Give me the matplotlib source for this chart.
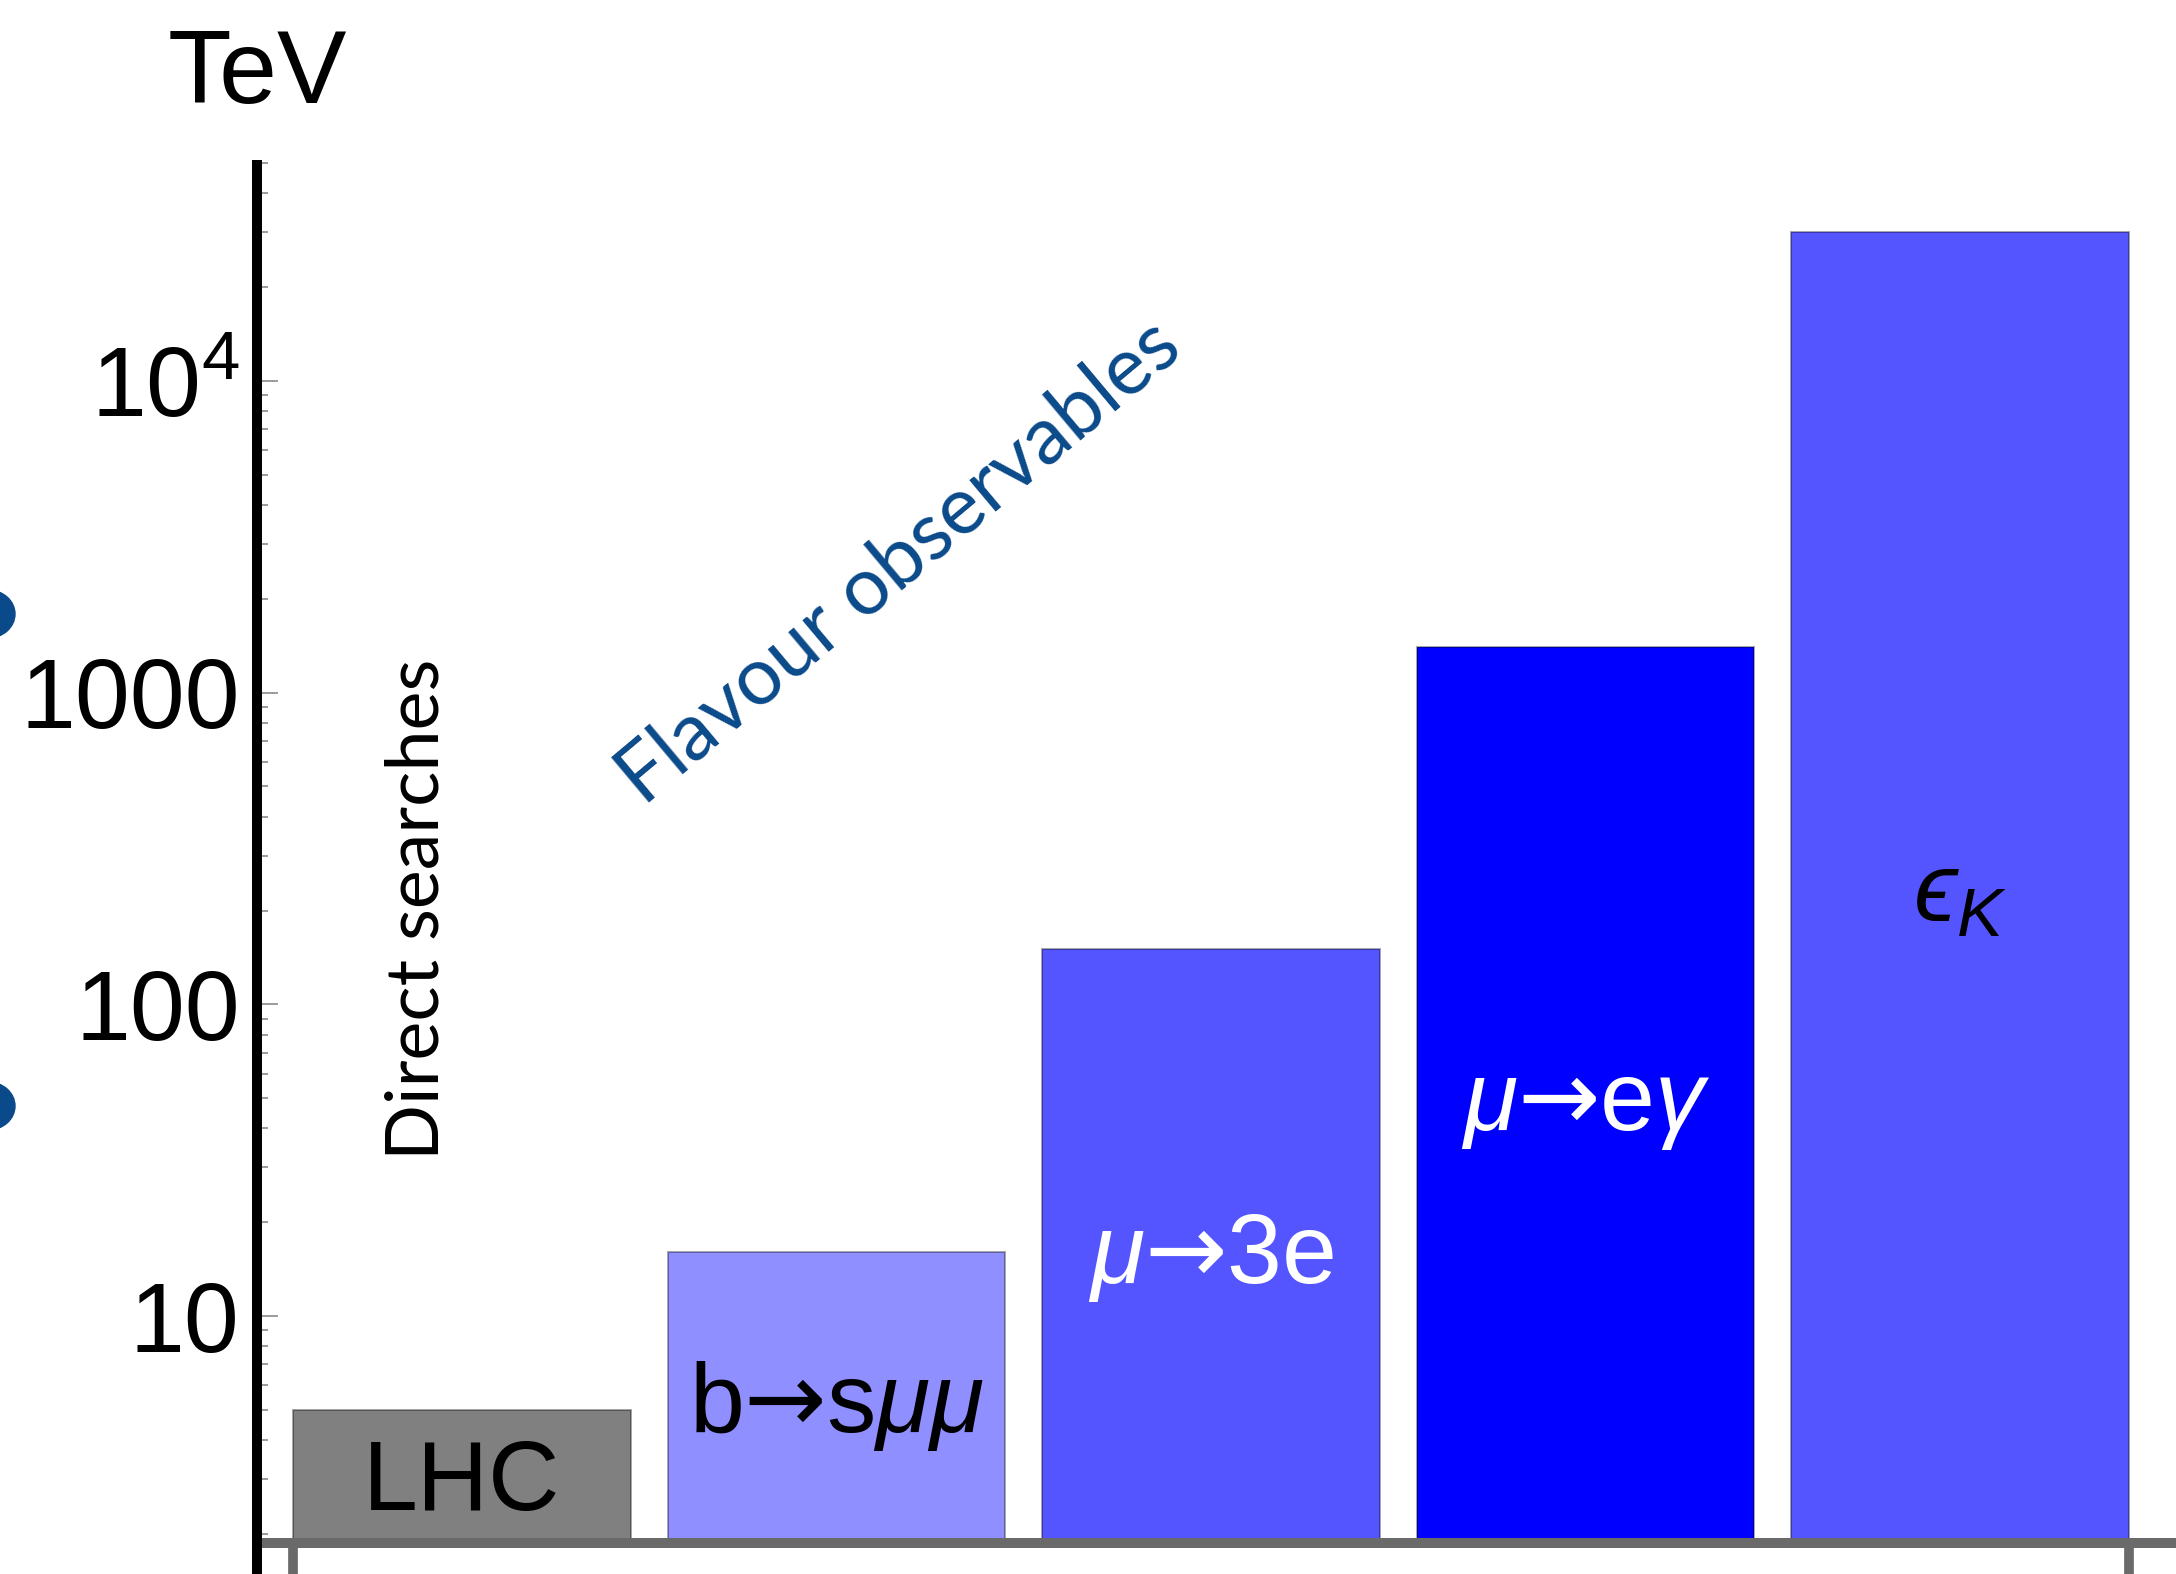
import numpy as np
import matplotlib
matplotlib.use("Agg")
import matplotlib.pyplot as plt
from matplotlib import font_manager
from matplotlib.patches import Ellipse
from matplotlib.ticker import FixedLocator, FixedFormatter, LogLocator, NullFormatter

# New-physics scale probed by each measurement, in TeV
labels = ["LHC", "b$\\mathsf{→}$s$\\mu\\mu$", "$\\mu\\mathsf{→}$3e",
          "$\\mu\\mathsf{→}$e$\\gamma$", "$\u03f5_K$"]
scales = [5, 16, 150, 1400, 30000]

yticks = [10, 100, 1000, 1e4]
ytick_labels = ["10", "100", "1000", "$10^4$"]

# styling
bar_colors = ["#808080", "#8f8fff", "#5555ff", "#0000ff", "#5555ff"]
text_colors = ["black", "black", "white", "white", "black"]
label_base = [2.39, 4.25, 12.8, 39.5, 184]   # text baselines inside the bars
axis_grey = "#6a6a6a"
note_blue = "#0b4a8a"

names = {f.name for f in font_manager.fontManager.ttflist}
sans = "Liberation Sans Narrow" if "Liberation Sans Narrow" in names else "Liberation Sans"
fs = 80 if sans.endswith("Narrow") else 71

plt.rcParams["font.family"] = [sans, "DejaVu Sans"]
plt.rcParams["mathtext.fontset"] = "custom"
plt.rcParams["mathtext.rm"] = sans
plt.rcParams["mathtext.it"] = sans + ":italic"
plt.rcParams["mathtext.bf"] = sans + ":bold"
plt.rcParams["mathtext.sf"] = "DejaVu Sans"   # heavier arrow glyph
plt.rcParams["mathtext.fallback"] = "stixsans"

W, H = 2176, 1574
fig = plt.figure(figsize=(W / 100, H / 100), dpi=100)
ax = fig.add_axes([257 / W, 0, (2171 - 257) / W, 1 - 160 / H])

base = 1.873
x = np.arange(1, len(scales) + 1)
width = 0.9

ax.set_yscale("log")
ax.set_ylim(1.489, 51090)
ax.set_xlim(0.4526, 5.5634)

ax.bar(x, np.array(scales) - base, bottom=base, width=width, color=bar_colors,
       edgecolor=(0, 0, 0, 0.35), linewidth=1.4, zorder=2)

for xi, lab, yb, tc in zip(x, labels, label_base, text_colors):
    ax.text(xi, yb, lab, ha="center", va="baseline", fontsize=fs, color=tc, zorder=3)

# axes lines
for s in ("top", "right"):
    ax.spines[s].set_visible(False)
ax.spines["left"].set_color("black")
ax.spines["left"].set_linewidth(7.2)
ax.spines["left"].set_capstyle("butt")
ax.spines["left"].set_zorder(4)
ax.spines["bottom"].set_position(("data", base))
ax.spines["bottom"].set_color(axis_grey)
ax.spines["bottom"].set_linewidth(7.2)
ax.spines["bottom"].set_zorder(3)

ax.yaxis.set_major_locator(FixedLocator(yticks))
ax.yaxis.set_major_formatter(FixedFormatter(ytick_labels))
ax.yaxis.set_minor_locator(LogLocator(base=10, subs=np.arange(2, 10)))
ax.yaxis.set_minor_formatter(NullFormatter())
ax.tick_params(axis="y", which="major", direction="in", length=15, width=1.1,
               color="#808080", pad=12.5, labelsize=fs)
ax.tick_params(axis="y", which="minor", direction="in", length=8, width=1.1,
               color="#808080")

ax.set_xticks([x[0] - width / 2, x[-1] + width / 2])
ax.tick_params(axis="x", direction="out", length=24, width=7, color=axis_grey,
               labelbottom=False)

fig.text(257 / W, 1 - 103 / H, "TeV", ha="center", va="baseline", fontsize=fs + 4)

fig.text(418 / W, 1 - 909 / H, "Direct searches", rotation=90, ha="center",
         va="center", fontsize=53, family="Lato", color="black")
fig.text(899 / W, 1 - 562 / H, "Flavour observables", rotation=40, ha="center",
         va="center", fontsize=58, family="Lato", color=note_blue)

# blue markers cut off at the left edge
for yc in (614, 1106):
    fig.add_artist(Ellipse((-12 / W, 1 - yc / H), 54 / W, 48 / H,
                           transform=fig.transFigure, color=note_blue, clip_on=False))

fig.savefig("out.png", dpi=100)
